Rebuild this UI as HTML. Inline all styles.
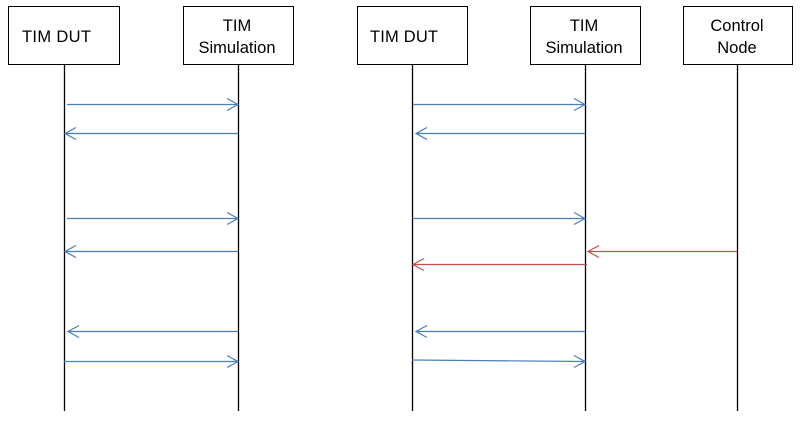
<!DOCTYPE html>
<html><head><style>body{margin:0;background:#fff}</style></head><body>
<svg width="800" height="422" xmlns="http://www.w3.org/2000/svg" font-family="Liberation Sans, sans-serif" font-size="16.5">
<rect width="800" height="422" fill="#fff"/>
<g fill="#fff" stroke="#000" stroke-width="1">
<rect x="8.5" y="6.5" width="111" height="58"/>
<rect x="183.5" y="6.5" width="110" height="58"/>
<rect x="357.5" y="6.5" width="110" height="58"/>
<rect x="530.5" y="6.5" width="110" height="58"/>
<rect x="683.5" y="6.5" width="109" height="58"/>
</g>
<g stroke="#000" stroke-width="1.3">
<line x1="64.5" y1="64" x2="64.5" y2="411"/>
<line x1="238.5" y1="64" x2="238.5" y2="411"/>
<line x1="412.5" y1="64" x2="412.5" y2="411"/>
<line x1="585.5" y1="64" x2="585.5" y2="411"/>
<line x1="737.5" y1="64" x2="737.5" y2="411"/>
</g>
<g fill="#000">
<text x="22" y="42" textLength="69">TIM DUT</text>
<text x="370" y="42" textLength="68">TIM DUT</text>
</g>
<g text-anchor="middle" fill="#000">
<text x="237" y="31">TIM</text><text x="237" y="53">Simulation</text>
<text x="584" y="31">TIM</text><text x="584" y="53">Simulation</text>
<text x="737" y="31">Control</text><text x="737" y="53">Node</text>
</g>
<g fill="none" stroke="#4a7ebb" stroke-width="1.2">
<path d="M67 104.5H238M227 98.5L238 104.5L227 110.5"/>
<path d="M238 133.5H65M76 127.5L65 133.5L76 139.5"/>
<path d="M67 218.5H238M227 212.5L238 218.5L227 224.5"/>
<path d="M238 251.5H65M76 245.5L65 251.5L76 257.5"/>
<path d="M238 331.5H68M79 325.5L68 331.5L79 337.5"/>
<path d="M64 361.5H238M227 355.5L238 361.5L227 367.5"/>
<path d="M413 104.5H585M574 98.5L585 104.5L574 110.5"/>
<path d="M585 133.5H416M427 127.5L416 133.5L427 139.5"/>
<path d="M413 218.5H585M574 212.5L585 218.5L574 224.5"/>
<path d="M585 331.5H416M427 325.5L416 331.5L427 337.5"/>
<path d="M412 360L585 361.5M574 355.5L585 361.5L574 367.5"/>
</g>
<g fill="none" stroke="#c0504d" stroke-width="1.2">
<path d="M737 251.5H588M599 245.5L588 251.5L599 257.5"/>
<path d="M587 264.5H413M424 258.5L413 264.5L424 270.5"/>
</g>
</svg>
</body></html>
